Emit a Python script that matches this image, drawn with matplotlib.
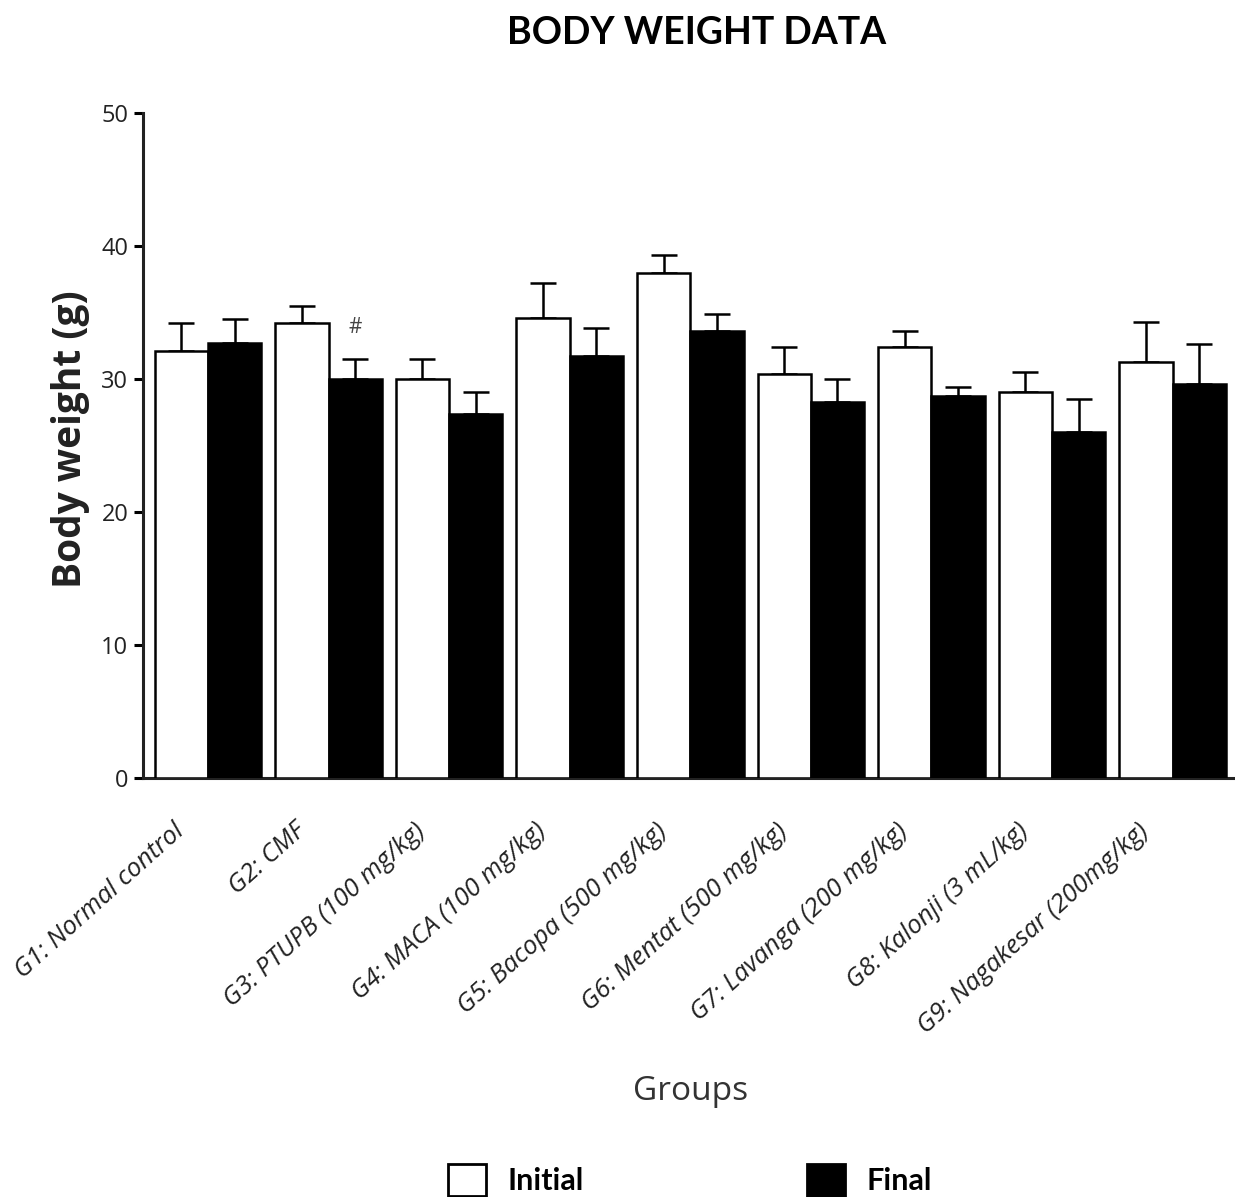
import numpy as np
import matplotlib
matplotlib.use("Agg")
import matplotlib.pyplot as plt
from matplotlib.patches import Patch


groups = ["G1: Normal control", "G2: CMF", "G3: PTUPB (100 mg/kg)",
          "G4: MACA (100 mg/kg)", "G5: Bacopa (500 mg/kg)",
          "G6: Mentat (500 mg/kg)", "G7: Lavanga (200 mg/kg)",
          "G8: Kalonji (3 mL/kg)", "G9: Nagakesar (200mg/kg)"]

initial = [32.1, 34.2, 30.0, 34.6, 38.0, 30.4, 32.4, 29.0, 31.3]
initial_sem = [2.1, 1.3, 1.5, 2.6, 1.3, 2.0, 1.2, 1.5, 3.0]
final = [32.7, 30.0, 27.4, 31.7, 33.6, 28.3, 28.7, 26.0, 29.6]
final_sem = [1.8, 1.5, 1.6, 2.1, 1.3, 1.7, 0.7, 2.5, 3.0]

# significance marks (group index -> symbol), drawn over the final bar
marks = {1: "#"}

plt.rcParams['font.family'] = ['Open Sans', 'DejaVu Sans']
heading = ['Lato', 'DejaVu Sans']

fig = plt.figure(figsize=(12.35, 11.97), dpi=100)
ax = fig.add_axes([0.1158, 0.35, 0.884, 0.5556])

x = np.arange(len(groups))
w = 0.442
lw = 1.8
zeros = np.zeros(len(groups))

ax.bar(x - w/2, initial, w, color="white", edgecolor="black", linewidth=lw, zorder=3)
ax.bar(x + w/2, final, w, color="black", edgecolor="black", linewidth=lw, zorder=3)
ax.errorbar(x - w/2, initial, yerr=[zeros, initial_sem], fmt="none", ecolor="black",
            elinewidth=lw, capsize=9.4, capthick=lw, zorder=2)
ax.errorbar(x + w/2, final, yerr=[zeros, final_sem], fmt="none", ecolor="black",
            elinewidth=lw, capsize=9.4, capthick=lw, zorder=2)

for i, m in marks.items():
    ax.text(x[i] + w/2, final[i] + final_sem[i] + 2.4, m, ha="center", va="center",
            fontsize=15, color="#444")

ax.set_xlim(-0.539, len(groups) - 1 + 0.516)
ax.set_ylim(0, 50)
ax.set_yticks(np.arange(0, 51, 10))
ax.tick_params(axis="y", direction="out", length=6.5, width=2.2, labelsize=17,
               labelcolor="#222", pad=4)
# labels hang a little left of the white bar
ax.set_xticks(x - w/2 - 0.07)
ax.set_xticklabels(groups, rotation=42, ha="right", va="top", rotation_mode="anchor",
                   fontsize=18.5, style="italic", color="#222")
ax.tick_params(axis="x", length=0, pad=29)

for side in ["top", "right"]:
    ax.spines[side].set_visible(False)
for side in ["left", "bottom"]:
    ax.spines[side].set_linewidth(2.2)
    ax.spines[side].set_color("#222")

ax.set_ylabel("Body weight (g)", fontsize=28, fontweight="bold", color="#222")
ax.yaxis.set_label_coords(-0.0485, 0.51)

fig.text(0.5595, 1 - 1091/1197, "Groups", ha="center", va="center",
         fontsize=24, color="#333")
fig.text(0.564, 1 - 33/1197, "BODY WEIGHT DATA", ha="center", va="center",
         fontsize=27, fontweight="bold", family=heading)

handles = [Patch(facecolor="white", edgecolor="black", linewidth=2),
           Patch(facecolor="black", edgecolor="black", linewidth=2)]
leg = fig.legend(handles, ["Initial", "Final"], loc="center left",
                 bbox_to_anchor=(0.363, 1 - 1180/1197), ncol=2, frameon=False,
                 handlelength=1.25, handleheight=1.25, handletextpad=0.7,
                 columnspacing=7.3, borderpad=0, borderaxespad=0,
                 prop={"family": heading, "weight": "bold", "size": 22})

fig.savefig("out.png", dpi=100)
